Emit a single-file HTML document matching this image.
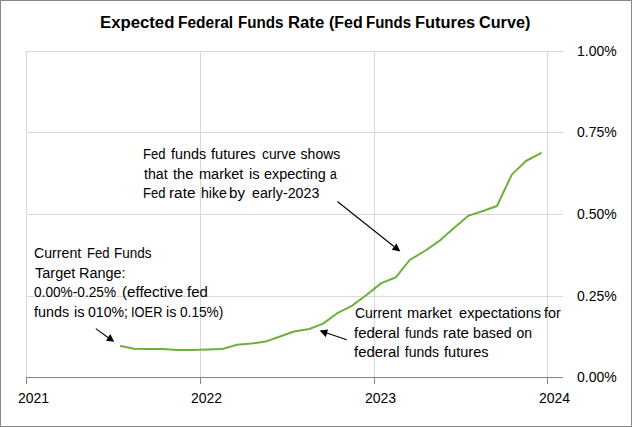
<!DOCTYPE html>
<html><head><meta charset="utf-8">
<style>
html,body{margin:0;padding:0;background:#fff;}
#c{position:relative;width:632px;height:427px;overflow:hidden;background:#fff;font-family:"Liberation Sans",sans-serif;color:#000;}
#c svg{position:absolute;left:0;top:0;}
.t{position:absolute;transform-origin:0 0;white-space:nowrap;line-height:1;font-size:14px;}
</style></head><body>
<div id="c">
<svg width="632" height="427" viewBox="0 0 632 427">
  <rect x="0.5" y="0.5" width="631" height="426" fill="#fff" stroke="#888888" stroke-width="1" shape-rendering="crispEdges"/>
  <g stroke="#d9d9d9" stroke-width="1" shape-rendering="crispEdges" fill="none">
    <path d="M26 51.5H563M26 132.5H563M26 214.5H563M26 296.5H563"/>
    <path d="M26.5 51V377M200.5 51V377M374.5 51V377M547.5 51V377"/>
  </g>
  <g stroke="#868686" stroke-width="1" shape-rendering="crispEdges" fill="none">
    <path d="M26 377.5H563"/>
    <path d="M26.5 378V384M200.5 378V384M374.5 378V384M547.5 378V384"/>
  </g>
  <polyline fill="none" stroke="#6eb03c" stroke-width="2" stroke-linejoin="round" stroke-linecap="round"
    points="120.8,346.1 134,348.8 149,348.9 163.2,348.9 177,350 192,349.9 207,349.5 222,349.1 237,344.8 251.5,343.5 265.5,341.6 280,336.5 294,331.5 309.3,329 323.1,323.6 337.9,312.8 351.8,305.9 366.5,295 381.3,283.1 396,277.2 409.7,260 425.5,250.5 439.8,240.6 454,228 468.7,215.6 483,211 497,206 511.8,174.6 525.9,161 540.9,153.1"/>
  <g stroke="#000" stroke-width="1.1" fill="none">
    <path d="M337.4 201.5L394 246.5"/>
    <path d="M95.8 328.6L108 337.5"/>
    <path d="M346.8 339.8L326 332.8"/>
  </g>
  <g fill="#000">
    <path d="M400.4 251.4L391.8 249.8L396.4 243.6Z"/>
    <path d="M114.2 341.7L106 340.8L110.3 334Z"/>
    <path d="M319.6 330.6L328 329.6L325.8 337.2Z"/>
  </g>
</svg>
<div class="t" style="left:577px;top:44px;">1.00%</div>
<div class="t" style="left:577px;top:125px;">0.75%</div>
<div class="t" style="left:577px;top:207px;">0.50%</div>
<div class="t" style="left:577px;top:289px;">0.25%</div>
<div class="t" style="left:577px;top:370px;">0.00%</div>
<div class="t" style="left:18px;top:391px;">2021</div>
<div class="t" style="left:191px;top:391px;">2022</div>
<div class="t" style="left:365px;top:391px;">2023</div>
<div class="t" style="left:539px;top:391px;">2024</div>

<div class="t" style="left:142.87px;top:147px;transform:scaleX(0.930);">Fed</div>
<div class="t" style="left:170.50px;top:147px;transform:scaleX(1.024);">funds</div>
<div class="t" style="left:210.50px;top:147px;transform:scaleX(1.042);">futures</div>
<div class="t" style="left:261.80px;top:147px;transform:scaleX(0.988);">curve</div>
<div class="t" style="left:300.60px;top:147px;">shows</div>
<div class="t" style="left:143.50px;top:167px;transform:scaleX(1.013);">that</div>
<div class="t" style="left:173.00px;top:167px;transform:scaleX(1.053);">the</div>
<div class="t" style="left:198.96px;top:167px;transform:scaleX(1.038);">market</div>
<div class="t" style="left:248.54px;top:167px;transform:scaleX(1.056);">is</div>
<div class="t" style="left:263.50px;top:167px;transform:scaleX(1.030);">expecting</div>
<div class="t" style="left:329.60px;top:167px;transform:scaleX(0.875);">a</div>
<div class="t" style="left:142.87px;top:186px;transform:scaleX(0.930);">Fed</div>
<div class="t" style="left:169.30px;top:186px;transform:scaleX(1.096);">rate</div>
<div class="t" style="left:200.59px;top:186px;transform:scaleX(1.008);">hike</div>
<div class="t" style="left:229.01px;top:186px;transform:scaleX(1.086);">by</div>
<div class="t" style="left:252.00px;top:186px;transform:scaleX(1.018);">early-2023</div>
<div class="t" style="left:34.40px;top:246px;transform:scaleX(1.011);">Current</div>
<div class="t" style="left:86.87px;top:246px;transform:scaleX(0.930);">Fed</div>
<div class="t" style="left:114.33px;top:246px;transform:scaleX(0.966);">Funds</div>
<div class="t" style="left:35.20px;top:266px;transform:scaleX(1.036);">Target</div>
<div class="t" style="left:79.47px;top:266px;transform:scaleX(1.033);">Range:</div>
<div class="t" style="left:34.40px;top:285px;transform:scaleX(0.977);">0.00%-0.25%</div>
<div class="t" style="left:122.42px;top:285px;transform:scaleX(1.082);">(effective</div>
<div class="t" style="left:187.00px;top:285px;transform:scaleX(1.068);">fed</div>
<div class="t" style="left:34.40px;top:305px;transform:scaleX(1.024);">funds</div>
<div class="t" style="left:73.64px;top:305px;transform:scaleX(1.056);">is</div>
<div class="t" style="left:88.30px;top:305px;transform:scaleX(1.005);">010%;</div>
<div class="t" style="left:130.88px;top:305px;transform:scaleX(0.918);">IOER</div>
<div class="t" style="left:165.88px;top:305px;transform:scaleX(1.022);">is</div>
<div class="t" style="left:180.00px;top:305px;transform:scaleX(0.977);">0.15%)</div>
<div class="t" style="left:354.90px;top:306px;">Current</div>
<div class="t" style="left:406.75px;top:306px;transform:scaleX(1.048);">market</div>
<div class="t" style="left:458.80px;top:306px;transform:scaleX(1.044);">expectations</div>
<div class="t" style="left:544.10px;top:306px;transform:scaleX(1.024);">for</div>
<div class="t" style="left:354.40px;top:326px;transform:scaleX(1.064);">federal</div>
<div class="t" style="left:405.40px;top:326px;transform:scaleX(0.971);">funds</div>
<div class="t" style="left:443.32px;top:326px;transform:scaleX(1.078);">rate</div>
<div class="t" style="left:473.49px;top:326px;transform:scaleX(1.014);">based</div>
<div class="t" style="left:516.40px;top:326px;">on</div>
<div class="t" style="left:354.40px;top:345px;transform:scaleX(1.064);">federal</div>
<div class="t" style="left:404.80px;top:345px;">funds</div>
<div class="t" style="left:444.40px;top:345px;transform:scaleX(1.040);">futures</div>
<div class="t" style="left:100.06px;top:15px;font-size:16px;font-weight:bold;transform:scaleX(1.045);">Expected</div>
<div class="t" style="left:177.53px;top:15px;font-size:16px;font-weight:bold;transform:scaleX(0.969);">Federal</div>
<div class="t" style="left:237.55px;top:15px;font-size:16px;font-weight:bold;transform:scaleX(0.949);">Funds</div>
<div class="t" style="left:287.76px;top:15px;font-size:16px;font-weight:bold;transform:scaleX(1.044);">Rate</div>
<div class="t" style="left:328.50px;top:15px;font-size:16px;font-weight:bold;transform:scaleX(0.997);">(Fed</div>
<div class="t" style="left:366.16px;top:15px;font-size:16px;font-weight:bold;transform:scaleX(0.940);">Funds</div>
<div class="t" style="left:415.47px;top:15px;font-size:16px;font-weight:bold;transform:scaleX(1.026);">Futures</div>
<div class="t" style="left:478.50px;top:15px;font-size:16px;font-weight:bold;transform:scaleX(1.012);">Curve)</div>

</div>
</body></html>
